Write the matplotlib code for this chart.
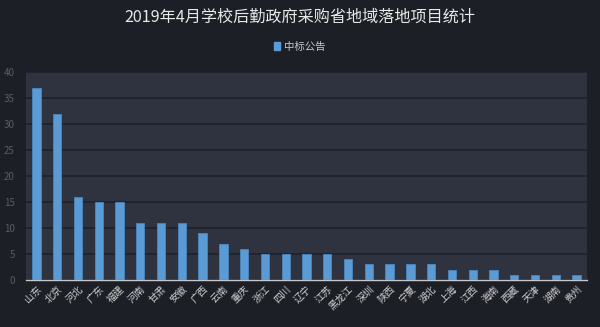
import matplotlib
matplotlib.use("Agg")
import matplotlib.pyplot as plt
from matplotlib.patches import Patch

plt.rcParams['font.family'] = ['Noto Sans CJK SC', 'DejaVu Sans']

categories = ['山东', '北京', '河北', '广东', '福建', '河南', '甘肃', '安徽', '广西', '云南',
              '重庆', '浙江', '四川', '辽宁', '江苏', '黑龙江', '深圳', '陕西', '宁夏', '湖北',
              '上海', '江西', '海南', '西藏', '天津', '湖南', '贵州']
values = [37, 32, 16, 15, 15, 11, 11, 11, 9, 7, 6, 5, 5, 5, 5, 4, 3, 3, 3, 3, 2, 2, 2, 1, 1, 1, 1]
series_name = '中标公告'
title = '2019年4月学校后勤政府采购省地域落地项目统计'

fig_bg = '#1d1f27'
plot_bg = '#2f3340'
bar_color = '#5b9bd5'

fig = plt.figure(figsize=(6.0, 3.27), dpi=100, facecolor=fig_bg)
ax = fig.add_axes([26/600, 1 - 280/327, 561/600, 208/327])
ax.set_facecolor(plot_bg)

x = range(len(categories))
ax.bar(x, values, width=0.4, color=bar_color, edgecolor='#4a86bf', linewidth=0.6, zorder=3)

ax.set_xlim(-0.5, len(categories) - 0.5)
ax.set_ylim(0, 40)
ax.set_yticks(range(0, 41, 5))
ax.yaxis.grid(True, color='#1f222b', linewidth=1.2, zorder=1)
ax.set_axisbelow(True)

for s in ['top', 'right', 'left']:
    ax.spines[s].set_visible(False)
ax.spines['bottom'].set_color('#c8c8c8')
ax.spines['bottom'].set_linewidth(1.0)

ax.tick_params(axis='y', length=0, colors='#585c66', labelsize=7, pad=8)
ax.tick_params(axis='x', length=0, colors='#d0d0d0', labelsize=7, pad=3)
ax.set_xticks(list(x))
ax.set_xticklabels(categories, rotation=45, ha='right', rotation_mode='anchor')

fig.text(0.5, 1 - 17/327, title, ha='center', va='center', color='#e8e8e8', fontsize=11.6)

handle = Patch(facecolor=bar_color, edgecolor=bar_color)
leg = fig.legend([handle], [series_name], loc='center', bbox_to_anchor=(0.5, 1 - 47/327),
                 frameon=False, fontsize=7.5, handlelength=0.6, handleheight=0.8,
                 handletextpad=0.4, labelcolor='#c8c8c8')

fig.savefig('out.png', dpi=100, facecolor=fig_bg)
